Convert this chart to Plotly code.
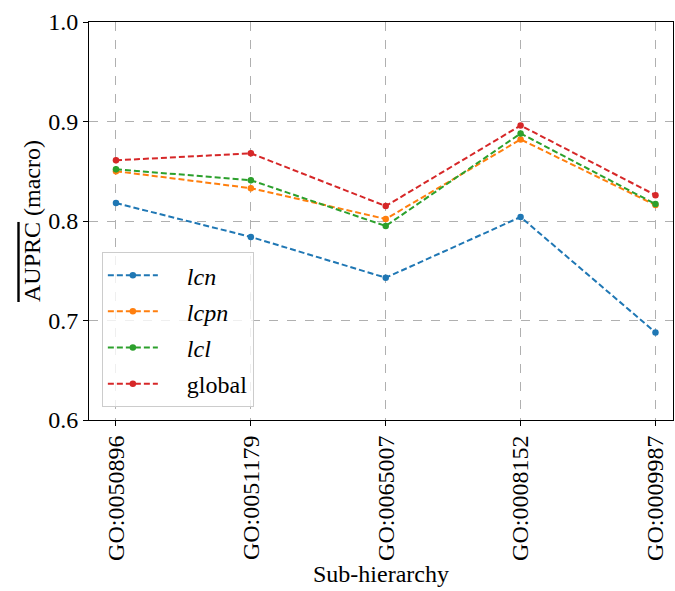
import plotly.graph_objects as go

categories = ["GO:0050896", "GO:0051179", "GO:0065007", "GO:0008152", "GO:0009987"]
lcn = [0.818, 0.784, 0.743, 0.804, 0.688]
lcpn = [0.850, 0.833, 0.802, 0.882, 0.816]
lcl = [0.852, 0.841, 0.795, 0.888, 0.817]
global_ = [0.861, 0.868, 0.815, 0.896, 0.826]
err = [0.003, 0.003, 0.002, 0.002, 0.002]

PAD = "&nbsp;" * 4
series = [
    (PAD + "<i>lcn</i>", lcn, "#1f77b4"),
    (PAD + "<i>lcpn</i>", lcpn, "#ff7f0e"),
    (PAD + "<i>lcl</i>", lcl, "#2ca02c"),
    (PAD + "global", global_, "#d62728"),
]

FONT = "Liberation Serif"
FS = 24
fig = go.Figure()
xs = list(range(len(categories)))
for i, (name, vals, col) in enumerate(series):
    fig.add_trace(go.Scatter(
        x=xs, y=vals, name=name, mode="lines+markers", legendgroup=f"g{i}",
        line=dict(color=col, width=2, dash="6px,3px"),
        marker=dict(color=col, size=6.5),
        error_y=dict(type="data", array=err, color=col, thickness=1.5, width=0),
    ))

fig.update_layout(
    width=675, height=591,
    margin=dict(l=89, r=2, t=22, b=171),
    plot_bgcolor="white", paper_bgcolor="white",
    font=dict(family=FONT, size=FS, color="black"),
    showlegend=True,
    legend=dict(x=0.022, y=0.422, xanchor="left", yanchor="top",
                bgcolor="rgba(255,255,255,0.8)", bordercolor="#cccccc", borderwidth=1,
                font=dict(family=FONT, size=FS), itemwidth=50, tracegroupgap=2),
)
fig.update_xaxes(
    tickmode="array", tickvals=xs, ticktext=categories, tickangle=-90,
    tickfont=dict(family=FONT, size=FS),
    range=[-0.2, 4.13], showline=True, linecolor="black", linewidth=1, mirror=True,
    ticks="outside", ticklen=5, tickcolor="black", automargin=False,
    showgrid=True, gridcolor="#b0b0b0", griddash="dash", gridwidth=1, zeroline=False,
    title=dict(text="Sub-hierarchy", font=dict(size=FS), standoff=4),
)
fig.update_yaxes(
    range=[0.6, 1.0], tickvals=[0.6, 0.7, 0.8, 0.9, 1.0], ticktext=["0.6", "0.7", "0.8", "0.9", "1.0"],
    tickfont=dict(family=FONT, size=FS),
    showline=True, linecolor="black", linewidth=1, mirror=True,
    ticks="outside", ticklen=5, tickcolor="black", automargin=False,
    showgrid=True, gridcolor="#b0b0b0", griddash="dash", gridwidth=1, zeroline=False,
    title=dict(text='<span style="text-decoration: overline">AUPRC</span> (macro)', font=dict(size=FS), standoff=0),
)
fig.write_html("out.html", config={"responsive": False, "displayModeBar": False},
               post_script="document.body.style.margin='0';document.body.style.overflow='hidden';")
